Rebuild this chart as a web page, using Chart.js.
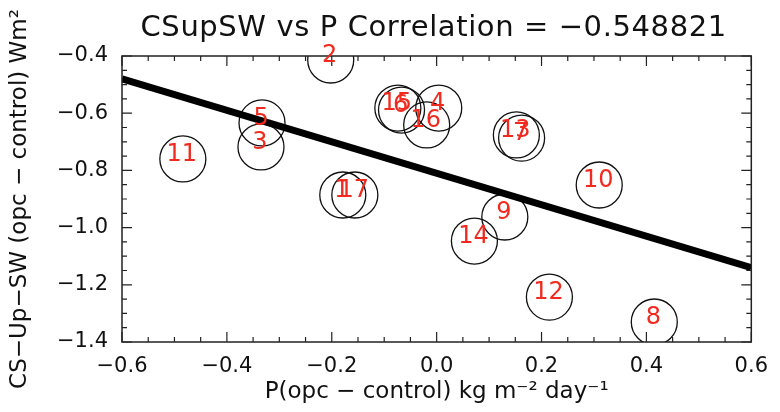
<!DOCTYPE html>
<html>
<head>
<meta charset="utf-8">
<script src="https://cdn.jsdelivr.net/npm/chart.js@4"></script>
<style>
  html, body { margin: 0; padding: 0; background: #fff; }
  #wrap { width: 780px; height: 412px; }
</style>
</head>
<body>
<div id="wrap"><canvas id="chart"></canvas></div>
<script>
// point ids and values
const pointIds = [1, 2, 3, 4, 5, 6, 7, 8, 9, 10, 11, 12, 13, 14, 15, 16, 17];
const precipDiff = [-0.179, -0.202, -0.335, 0.004, -0.333, -0.067, 0.162, 0.415, 0.130, 0.310,
                    -0.484, 0.215, 0.152, 0.072, -0.074, -0.019, -0.156];
const swDiff = [-0.886, -0.414, -0.718, -0.582, -0.634, -0.589, -0.687, -1.330, -0.963, -0.851,
                -0.760, -1.243, -0.676, -1.047, -0.582, -0.641, -0.886];

// fitted line end points
const fitX = [-0.6, 0.6];
const fitY = [-0.48, -1.14];

const xTicks = [-0.6, -0.4, -0.2, 0.0, 0.2, 0.4, 0.6];
const yTicks = [-1.4, -1.2, -1.0, -0.8, -0.6, -0.4];
const xMinorStep = 0.05;
const yMinorStep = 0.05;

const titleText = 'CSupSW vs P Correlation = \u22120.548821';
const xTitle = 'P(opc \u2212 control) kg m\u207B\u00B2 day\u207B\u00B9';
const yTitle = 'CS\u2212Up\u2212SW (opc \u2212 control) Wm\u00B2';

const FONT = "'DejaVu Sans ExtraLight', 'DejaVu Sans', sans-serif";

function fmt(v) {
    if (Math.abs(v) < 1e-9) v = 0;
    return v.toFixed(1).replace('-', '\u2212');
}

// box, inward ticks, title and red point numbers
const idlStyle = {
    id: 'idlStyle',
    afterDraw(chart) {
        const ctx = chart.ctx;
        const a = chart.chartArea;
        const xs = chart.scales.x, ys = chart.scales.y;
        ctx.save();
        ctx.strokeStyle = '#222';
        ctx.lineWidth = 1.5;
        ctx.strokeRect(a.left, a.top, a.right - a.left, a.bottom - a.top);

        ctx.lineWidth = 1.2;
        ctx.beginPath();
        // x ticks, top and bottom
        for (let v = xs.min; v <= xs.max + 1e-9; v += xMinorStep) {
            const major = xTicks.some(t => Math.abs(t - v) < 1e-6);
            const len = major ? 10 : 5;
            const px = xs.getPixelForValue(v);
            ctx.moveTo(px, a.bottom); ctx.lineTo(px, a.bottom - len);
            ctx.moveTo(px, a.top); ctx.lineTo(px, a.top + len);
        }
        // y ticks, left and right
        for (let v = ys.min; v <= ys.max + 1e-9; v += yMinorStep) {
            const major = yTicks.some(t => Math.abs(t - v) < 1e-6);
            const len = major ? 10 : 5;
            const py = ys.getPixelForValue(v);
            ctx.moveTo(a.left, py); ctx.lineTo(a.left + len, py);
            ctx.moveTo(a.right, py); ctx.lineTo(a.right - len, py);
        }
        ctx.stroke();

        // title
        ctx.fillStyle = '#111';
        ctx.font = '29px ' + FONT;
        ctx.letterSpacing = '0.6px';
        ctx.textAlign = 'center';
        ctx.textBaseline = 'middle';
        ctx.fillText(titleText, (a.left + a.right) / 2 - 3, 28);

        // point numbers
        ctx.letterSpacing = '0px';
        ctx.fillStyle = '#f02a1e';
        ctx.font = '24px ' + FONT;
        pointIds.forEach((id, i) => {
            const px = xs.getPixelForValue(precipDiff[i]);
            const py = ys.getPixelForValue(swDiff[i]);
            ctx.fillText(String(id), px - 1, py - 4);
        });
        ctx.restore();
    }
};

const ctx = document.getElementById('chart').getContext('2d');
new Chart(ctx, {
    type: 'scatter',
    data: {
        datasets: [
            {
                type: 'line',
                data: fitX.map((x, i) => ({ x: x, y: fitY[i] })),
                borderColor: '#000',
                borderWidth: 7,
                pointRadius: 0,
                fill: false,
                clip: 0
            },
            {
                data: precipDiff.map((x, i) => ({ x: x, y: swDiff[i] })),
                pointRadius: 23,
                pointBorderWidth: 1.3,
                pointBorderColor: '#111',
                pointBackgroundColor: 'rgba(0,0,0,0)',
                showLine: false,
                clip: 0
            }
        ]
    },
    plugins: [idlStyle],
    options: {
        responsive: true,
        maintainAspectRatio: false,
        animation: false,
        layout: { padding: { top: 56, right: 28, left: 0, bottom: 0 } },
        plugins: {
            legend: { display: false },
            tooltip: { enabled: false }
        },
        scales: {
            x: {
                type: 'linear',
                min: -0.6,
                max: 0.6,
                afterBuildTicks: s => { s.ticks = xTicks.map(v => ({ value: v })); },
                afterFit: s => { s.height = 70; },
                grid: { display: false, drawTicks: false },
                border: { display: false },
                ticks: {
                    color: '#111',
                    padding: 12,
                    maxRotation: 0,
                    autoSkip: false,
                    font: { family: FONT, size: 21 },
                    callback: v => fmt(v)
                },
                title: {
                    display: true,
                    text: xTitle,
                    color: '#111',
                    padding: { top: 0, bottom: 6 },
                    font: { family: FONT, size: 23 }
                }
            },
            y: {
                type: 'linear',
                min: -1.4,
                max: -0.4,
                afterBuildTicks: s => { s.ticks = yTicks.map(v => ({ value: v })); },
                afterFit: s => { s.width = 122; },
                grid: { display: false, drawTicks: false },
                border: { display: false },
                ticks: {
                    color: '#111',
                    padding: 14,
                    autoSkip: false,
                    font: { family: FONT, size: 21 },
                    callback: v => fmt(v)
                },
                title: {
                    display: true,
                    text: yTitle,
                    color: '#111',
                    padding: { top: 6, bottom: 0 },
                    font: { family: FONT, size: 23 }
                }
            }
        }
    }
});
</script>
</body>
</html>
